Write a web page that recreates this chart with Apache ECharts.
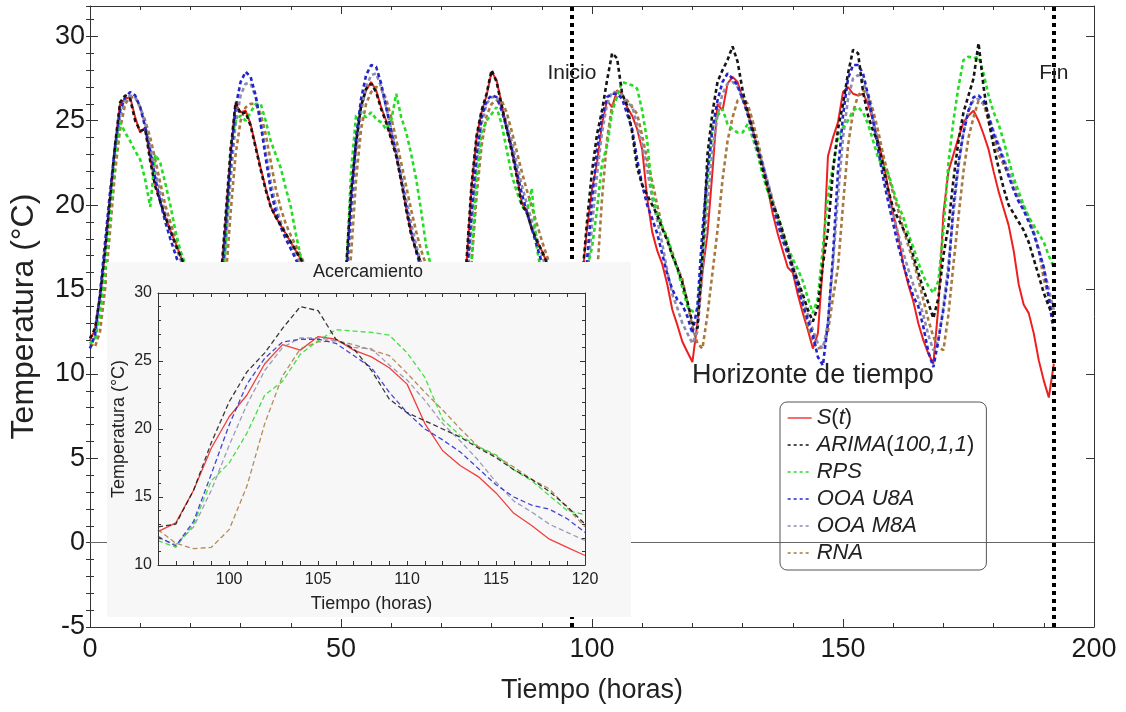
<!DOCTYPE html>
<html>
<head>
<meta charset="utf-8">
<script src="https://cdn.jsdelivr.net/npm/echarts@6/dist/echarts.min.js"></script>
<style>
  html, body { margin: 0; padding: 0; background: #ffffff; }
  #chart { width: 1126px; height: 712px; }
</style>
</head>
<body>
<div id="chart"></div>
<script>
// Hourly time stamps (hours 0..192)
const hours = Array.from({ length: 193 }, (_, i) => i);

// Measured temperature S(t), °C
const sMeasured = [
  12.0, 12.6, 14.5, 17.2, 20.3, 23.5, 26.0, 26.3, 26.4, 25.2, 24.3, 24.6, 22.8, 21.2, 20.2, 19.3, 18.5, 17.8, 17.0, 16.3, 15.6, 15.0, 14.4, 13.9,
  13.5, 13.3, 15.2, 19.0, 23.0, 26.0, 25.5, 25.6, 24.8, 23.5, 22.2, 21.0, 19.9, 19.3, 18.8, 18.3, 17.8, 17.3, 16.8, 16.2, 15.6, 15.0, 14.5, 14.0,
  13.6, 13.3, 13.8, 16.0, 20.5, 23.5, 25.8, 26.8, 27.3, 26.8, 25.8, 25.0, 24.0, 23.0, 21.5, 19.8, 18.3, 17.3, 16.5, 15.8, 15.1, 14.5, 14.0, 13.6,
  13.3, 13.0, 13.2, 16.5, 21.0, 24.0, 25.5, 26.5, 27.9, 27.4, 26.0, 24.6, 23.3, 21.8, 20.1, 19.7, 18.6, 17.9, 17.3, 16.6, 15.5, 14.5, 13.6, 12.9,
  12.45, 13.1, 15.5, 18.6, 20.9, 22.5, 24.8, 26.2, 25.8, 26.8, 26.6, 25.8, 25.3, 24.5, 23.3, 20.4, 18.4, 17.3, 16.5, 15.3, 13.8, 12.9, 11.9, 11.3,
  10.7, 13.0, 16.0, 18.3, 22.0, 26.0, 25.6, 27.2, 27.6, 27.3, 26.3, 25.6, 24.5, 23.3, 22.4, 21.0, 19.5, 18.3, 17.3, 16.3, 16.0, 14.7, 13.6, 12.6,
  11.5, 12.4, 16.5, 22.9, 24.0, 24.9, 26.7, 27.0, 26.6, 26.5, 26.6, 26.0, 25.0, 23.8, 22.6, 21.0, 19.5, 18.2, 16.5, 15.3, 14.3, 13.0, 12.0, 11.2,
  10.6, 14.0, 19.5, 22.0, 23.0, 24.0, 24.9, 25.3, 25.6, 25.0, 24.2, 23.3, 22.0, 20.8, 19.8, 18.8, 17.3, 15.3, 14.1, 13.6, 12.4, 10.8, 9.6, 8.6,
  10.6
];

// ARIMA(100,1,1): in-sample fit up to hour 96, forecast afterwards
const arima = [
  12.1, 12.7, 14.6, 17.3, 20.4, 23.6, 26.1, 26.5, 26.3, 25.0, 24.4, 24.5, 22.6, 21.1, 20.2, 19.3, 18.5, 17.7, 17.0, 16.3, 15.6, 15.0, 14.4, 13.9,
  13.5, 13.3, 15.4, 19.3, 23.2, 26.1, 25.4, 25.5, 24.7, 23.4, 22.1, 20.9, 19.9, 19.3, 18.8, 18.3, 17.8, 17.3, 16.8, 16.2, 15.6, 15.0, 14.5, 14.0,
  13.6, 13.3, 13.9, 16.2, 20.8, 23.7, 25.9, 26.9, 27.2, 26.7, 25.7, 24.9, 23.9, 22.9, 21.4, 19.7, 18.2, 17.3, 16.5, 15.8, 15.1, 14.5, 14.0, 13.6,
  13.3, 13.0, 13.3, 16.7, 21.2, 24.1, 25.6, 26.6, 28.0, 27.3, 25.9, 24.5, 23.2, 21.7, 20.0, 19.6, 18.6, 17.9, 17.3, 16.6, 15.5, 14.5, 13.6, 12.9,
  12.8, 13.0, 15.5, 19.0, 22.0, 24.2, 25.6, 27.4, 29.0, 28.7, 26.6, 25.9, 24.3, 22.2, 21.2, 20.6, 20.0, 19.4, 18.6, 17.9, 17.0, 16.3, 15.4, 14.3,
  13.0, 12.7, 17.0, 23.0, 25.5, 27.3, 28.0, 28.6, 29.4, 28.5, 26.8, 25.5, 24.5, 23.3, 22.1, 21.0, 20.0, 19.4, 18.4, 17.4, 16.3, 15.5, 14.7, 13.8,
  13.1, 14.0, 16.5, 18.5, 22.0, 24.5, 26.0, 27.8, 29.2, 29.0, 26.7, 25.3, 24.4, 23.7, 22.3, 20.9, 19.8, 19.2, 18.6, 18.0, 17.0, 16.0, 15.0, 14.2,
  13.3, 14.5, 17.0, 18.8, 21.5, 23.8, 25.5, 26.5, 27.5, 29.6, 27.0, 25.0, 23.5, 22.2, 21.0, 20.0, 19.5, 19.0, 18.5, 17.8, 16.8, 15.8, 14.8, 14.0,
  13.3
];

// RPS forecast
const rps = [
  11.8, 12.0, 13.5, 16.0, 19.5, 23.0, 24.9, 24.3, 23.8, 23.2, 22.7, 21.5, 19.9, 23.0, 22.5, 21.3, 20.0, 18.5, 17.3, 16.5, 15.8, 15.2, 14.6, 14.0,
  13.5, 13.3, 14.0, 17.5, 23.5, 25.0, 25.3, 25.0, 25.5, 26.0, 26.0, 25.0, 23.8, 23.0, 22.2, 21.0, 19.9, 18.3, 16.9, 16.0, 15.3, 14.7, 14.1, 13.6,
  13.3, 13.0, 13.2, 15.5, 22.0, 25.3, 25.5, 25.2, 25.5, 25.1, 24.9, 24.5, 25.0, 26.6, 25.2, 24.3, 23.0, 21.5, 19.6, 17.5, 16.3, 15.4, 14.7, 14.2,
  13.8, 13.5, 13.5, 14.5, 16.7, 21.5, 24.3, 25.0, 25.4, 25.8, 24.8, 23.3, 21.8, 20.8, 20.0, 19.5, 21.0, 17.5, 15.8, 15.0, 14.2, 13.4, 12.6, 12.0,
  11.8, 11.3, 13.0, 16.2, 17.5, 19.7, 22.5, 23.5, 25.5, 26.5, 27.3, 27.2, 27.1, 26.9, 25.6, 23.8, 20.7, 19.5, 18.7, 18.1, 17.0, 16.2, 15.1, 14.0,
  13.7, 13.8, 17.0, 21.5, 24.6, 25.3, 25.7, 24.8, 24.5, 24.3, 24.3, 24.8, 24.0, 23.0, 21.8, 20.8, 20.0, 19.3, 18.5, 17.5, 16.8, 16.2, 15.5, 14.5,
  13.6, 14.5, 17.5, 20.5, 22.3, 24.0, 24.6, 25.0, 25.6, 25.8, 25.5, 24.8, 23.8, 22.8, 22.3, 21.9, 20.9, 20.0, 19.3, 18.3, 17.5, 16.6, 15.8, 15.2,
  14.8, 15.5, 18.5, 22.5, 25.0, 27.0, 28.6, 28.8, 28.7, 28.8, 27.8, 26.5, 25.5, 24.8, 23.8, 22.7, 21.6, 20.8, 20.0, 19.3, 18.8, 18.3, 17.8, 17.0,
  16.3
];

// OOA U8A forecast
const ooaU8A = [
  11.5, 12.3, 14.8, 17.8, 20.8, 23.5, 25.6, 26.4, 26.7, 26.5, 25.8, 24.6, 23.2, 21.6, 20.2, 19.0, 18.0, 17.1, 16.2, 15.4, 14.7, 14.0, 13.5, 13.0,
  12.6, 12.5, 14.5, 18.5, 22.5, 25.8, 27.3, 27.9, 27.6, 26.5, 24.8, 22.8, 20.9, 19.6, 18.7, 18.0, 17.4, 16.8, 16.1, 15.4, 14.7, 14.0, 13.4, 13.0,
  12.7, 12.6, 13.2, 15.5, 20.0, 24.0, 26.3, 27.7, 28.3, 28.2, 27.2, 25.8, 24.4, 23.0, 21.5, 19.9, 18.4, 17.2, 16.2, 15.4, 14.7, 14.1, 13.6, 13.2,
  12.9, 12.7, 13.2, 15.5, 19.5, 23.0, 25.2, 26.2, 26.5, 26.4, 25.6, 24.6, 23.4, 22.0, 20.7, 19.6, 18.6, 17.6, 16.6, 15.6, 14.6, 13.7, 12.9, 12.4,
  12.1, 11.4, 13.2, 16.7, 20.3, 23.3, 25.2, 26.4, 26.6, 26.6, 26.3, 25.4, 24.5, 22.7, 21.2, 20.0, 19.2, 18.3, 17.1, 15.9, 15.0, 14.4, 14.1, 13.4,
  12.4, 14.0, 18.5, 22.0, 24.5, 26.2, 27.3, 27.8, 27.5, 27.1, 26.3, 25.4, 24.3, 23.3, 22.3, 21.2, 20.0, 18.9, 17.9, 17.1, 16.1, 15.1, 14.1, 13.2,
  12.3, 11.0, 10.5, 13.0, 17.0, 22.0, 25.3, 27.5, 28.3, 28.3, 27.8, 26.5, 25.0, 23.3, 21.6, 20.2, 18.9, 17.6, 16.5, 15.5, 14.6, 14.0, 12.8, 11.3,
  10.4, 12.0, 13.8, 16.0, 20.0, 22.5, 24.3, 25.6, 26.4, 26.5, 26.2, 25.3, 24.2, 23.5, 22.6, 21.7, 20.9, 20.2, 19.7, 19.0, 18.3, 17.3, 16.3, 14.5,
  12.4
];

// OOA M8A forecast
const ooaM8A = [
  11.8, 12.2, 14.0, 17.0, 20.0, 23.0, 25.3, 26.2, 26.5, 26.4, 25.8, 24.8, 23.5, 22.0, 20.7, 19.5, 18.5, 17.6, 16.8, 16.0, 15.2, 14.5, 13.9, 13.4,
  13.0, 12.8, 14.0, 17.5, 21.5, 24.8, 26.5, 27.2, 27.2, 26.4, 25.0, 23.2, 21.4, 20.0, 19.0, 18.3, 17.7, 17.1, 16.5, 15.8, 15.1, 14.4, 13.8, 13.3,
  13.0, 12.8, 13.2, 15.0, 19.0, 23.0, 25.5, 27.0, 27.7, 27.8, 27.0, 25.8, 24.5, 23.2, 21.8, 20.3, 18.9, 17.6, 16.5, 15.6, 14.9, 14.3, 13.8, 13.4,
  13.1, 12.9, 13.2, 15.0, 18.8, 22.5, 24.8, 26.0, 26.4, 26.4, 25.8, 24.9, 23.8, 22.5, 21.2, 20.1, 19.1, 18.1, 17.1, 16.1, 15.1, 14.2, 13.3, 12.6,
  12.0, 11.5, 12.8, 15.5, 18.8, 21.8, 24.3, 26.0, 26.7, 26.7, 26.5, 26.0, 25.9, 24.7, 23.6, 22.1, 20.4, 19.1, 17.7, 16.1, 14.7, 13.9, 13.0, 12.4,
  11.8, 12.5, 16.0, 20.0, 23.2, 25.3, 26.6, 27.2, 27.3, 27.0, 26.3, 25.4, 24.4, 23.4, 22.4, 21.4, 20.3, 19.3, 18.3, 17.4, 16.5, 15.5, 14.5, 13.5,
  12.6, 11.8, 11.5, 13.0, 16.5, 20.5, 24.0, 26.3, 27.5, 27.7, 27.4, 26.4, 25.1, 23.6, 22.1, 20.7, 19.5, 18.3, 17.2, 16.2, 15.3, 14.5, 13.5, 12.3,
  11.4, 12.0, 14.0, 16.5, 19.5, 22.3, 24.3, 25.6, 26.2, 26.3, 26.0, 25.3, 24.4, 23.6, 22.8, 22.0, 21.2, 20.5, 19.9, 19.2, 18.4, 17.4, 16.3, 15.0,
  13.8
];

// RNA forecast
const rna = [
  11.8, 11.6, 12.5, 15.0, 18.5, 22.0, 24.5, 26.0, 26.4, 26.4, 25.8, 25.0, 24.0, 22.7, 21.3, 20.0, 19.0, 18.0, 17.0, 16.2, 15.4, 14.7, 14.1, 13.6,
  13.2, 12.9, 13.2, 15.5, 19.5, 23.0, 25.0, 25.8, 26.0, 26.0, 25.4, 24.2, 22.6, 21.0, 19.8, 18.9, 18.2, 17.6, 17.0, 16.3, 15.6, 14.9, 14.3, 13.8,
  13.4, 13.1, 13.1, 14.0, 17.0, 21.5, 24.5, 26.0, 26.7, 27.0, 26.9, 26.3, 25.2, 23.9, 22.5, 21.1, 19.7, 18.4, 17.3, 16.4, 15.6, 14.9, 14.3, 13.8,
  13.4, 13.2, 13.2, 14.0, 16.5, 20.5, 23.5, 25.3, 26.0, 26.2, 26.2, 25.5, 24.4, 23.2, 22.0, 20.9, 19.9, 18.9, 17.9, 17.0, 16.2, 15.2, 14.2, 13.3,
  12.6, 11.6, 11.2, 11.3, 12.6, 15.8, 20.4, 23.9, 25.9, 26.4, 26.5, 26.2, 25.8, 25.4, 24.1, 22.7, 21.4, 20.0, 18.7, 18.0, 17.2, 16.3, 15.6, 14.2,
  12.8, 11.8, 11.5, 13.5, 16.0, 18.5, 21.5, 23.8, 25.2, 26.2, 26.4, 26.0, 25.0, 23.8, 22.5, 21.3, 20.2, 19.2, 18.2, 17.2, 16.3, 15.2, 14.0, 12.8,
  11.9, 11.5, 11.6, 12.5, 14.5, 16.3, 20.0, 23.5, 25.5, 26.5, 26.8, 26.6, 25.6, 24.4, 23.0, 21.8, 20.7, 19.7, 18.6, 17.6, 16.7, 15.6, 14.4, 13.2,
  12.2, 11.6, 11.4, 13.5, 16.5, 19.3, 22.0, 24.0, 25.2, 26.2, 26.0, 25.0, 24.0, 23.0, 22.4, 21.8, 21.0, 20.3, 19.9, 19.3, 18.4, 17.3, 15.6, 14.6,
  13.5
];

// Forecast horizon markers and the zoomed window (hours)
const horizonStart = 96;
const horizonEnd = 192;
const zoomFrom = 96;
const zoomTo = 120;

const FONT = "'Liberation Sans', Arial, Helvetica, sans-serif";

// Series definitions: drawing order (first is at the bottom)
const defs = [
  { name: 'S(t)',           values: sMeasured, color: '#ee1f1f', solid: true },
  { name: 'RNA',            values: rna,       color: '#a8783e' },
  { name: 'OOA M8A',        values: ooaM8A,    color: '#8c8cae' },
  { name: 'RPS',            values: rps,       color: '#25dc25' },
  { name: 'OOA U8A',        values: ooaU8A,    color: '#2424cc' },
  { name: 'ARIMA(100,1,1)', values: arima,     color: '#151515' }
];
const legendOrder = ['S(t)', 'ARIMA(100,1,1)', 'RPS', 'OOA U8A', 'OOA M8A', 'RNA'];

function toPairs(values, from, to) {
  const out = [];
  for (let i = 0; i < hours.length; i++) {
    if (hours[i] >= from && hours[i] <= to) out.push([hours[i], values[i]]);
  }
  return out;
}

const series = [];
defs.forEach(d => {
  series.push({
    name: d.name,
    type: 'line',
    xAxisIndex: 0,
    yAxisIndex: 0,
    data: toPairs(d.values, 0, horizonEnd),
    showSymbol: false,
    symbol: 'none',
    smooth: false,
    z: 2,
    lineStyle: { color: d.color, width: d.solid ? 2 : 2.6, type: d.solid ? 'solid' : [4, 3] },
    itemStyle: { color: d.color },
    emphasis: { disabled: true }
  });
  series.push({
    name: d.name,
    type: 'line',
    xAxisIndex: 2,
    yAxisIndex: 2,
    data: toPairs(d.values, zoomFrom, zoomTo),
    showSymbol: false,
    symbol: 'none',
    z: 10,
    lineStyle: { color: d.color, width: 1.3, type: d.solid ? 'solid' : [5, 3], opacity: 0.85 },
    itemStyle: { color: d.color },
    emphasis: { disabled: true }
  });
});

// Reference lines and annotations on the main plot (kept beneath the inset panel)
series.push({
  type: 'line',
  name: 'marks',
  xAxisIndex: 0,
  yAxisIndex: 0,
  data: [],
  z: 3,
  silent: true,
  markLine: {
    silent: true,
    z: 3,
    symbol: 'none',
    label: { show: false },
    data: [
      { xAxis: horizonStart, lineStyle: { color: '#000', width: 4, type: [4, 4] } },
      { xAxis: horizonEnd, lineStyle: { color: '#000', width: 4, type: [4, 4] } },
      { yAxis: 0, lineStyle: { color: '#666', width: 1, type: 'solid' } }
    ]
  },
  markPoint: {
    silent: true,
    z: 4,
    symbol: 'circle',
    symbolSize: 1,
    itemStyle: { color: 'rgba(0,0,0,0)' },
    label: { show: true, position: 'inside', formatter: '{b}', color: '#222', fontFamily: FONT },
    data: [
      { name: 'Inicio', coord: [horizonStart, 27.8], label: { fontSize: 21 } },
      { name: 'Fin', coord: [horizonEnd, 27.8], label: { fontSize: 21 } },
      { name: 'Horizonte de tiempo', coord: [144, 9.9], label: { fontSize: 27 } }
    ]
  }
});

function valueAxis(opts) {
  return Object.assign({
    type: 'value',
    splitLine: { show: false },
    axisLine: { show: true, onZero: false, lineStyle: { color: '#333', width: 1 } },
    axisTick: { show: true, inside: true, length: 8, lineStyle: { color: '#333' } },
    axisLabel: { show: false },
    minorTick: { show: false }
  }, opts);
}

const mainX = { min: 0, max: 200, interval: 50, gridIndex: 0 };
const mainY = { min: -5, max: 31.8, interval: 5, gridIndex: 0 };
const insetX = { min: zoomFrom, max: zoomTo, interval: 1, gridIndex: 1 };
const insetY = { min: 10, max: 30, interval: 5, gridIndex: 1 };

const xAxis = [
  // 0: main bottom
  valueAxis(Object.assign({}, mainX, {
    position: 'bottom',
    minorTick: { show: true, splitNumber: 5, length: 4, lineStyle: { color: '#333' } },
    axisLabel: { show: true, fontSize: 27, color: '#1a1a1a', margin: 9, fontFamily: FONT },
    name: 'Tiempo (horas)', nameLocation: 'middle', nameGap: 50,
    nameTextStyle: { fontSize: 27, color: '#222', fontFamily: FONT }
  })),
  // 1: main top (mirrored ticks)
  valueAxis(Object.assign({}, mainX, {
    position: 'top',
    minorTick: { show: true, splitNumber: 5, length: 4, lineStyle: { color: '#333' } }
  })),
  // 2: inset bottom
  valueAxis(Object.assign({}, insetX, {
    position: 'bottom', z: 12,
    axisTick: { show: true, inside: true, length: 4, lineStyle: { color: '#333' } },
    axisLabel: { show: true, fontSize: 16, color: '#222', margin: 7, fontFamily: FONT,
      formatter: v => (v % 5 === 0 ? String(v) : '') },
    name: 'Tiempo (horas)', nameLocation: 'middle', nameGap: 30,
    nameTextStyle: { fontSize: 18, color: '#222', fontFamily: FONT }
  })),
  // 3: inset top
  valueAxis(Object.assign({}, insetX, {
    position: 'top', z: 12,
    axisTick: { show: true, inside: true, length: 4, lineStyle: { color: '#333' } }
  }))
];

const yAxis = [
  // 0: main left (major ticks + labels)
  valueAxis(Object.assign({}, mainY, {
    position: 'left',
    axisLabel: { show: true, fontSize: 27, color: '#1a1a1a', margin: 5, fontFamily: FONT,
      formatter: v => (v % 5 === 0 ? String(v) : '') },
    name: 'Temperatura (°C)', nameLocation: 'middle', nameGap: 50,
    nameTextStyle: { fontSize: 32, color: '#222', fontFamily: FONT }
  })),
  // 1: main right (major ticks)
  valueAxis(Object.assign({}, mainY, { position: 'right' })),
  // 2: inset left
  valueAxis(Object.assign({}, insetY, {
    position: 'left', z: 12,
    axisTick: { show: true, inside: true, length: 5, lineStyle: { color: '#333' } },
    minorTick: { show: true, splitNumber: 5, length: 3, lineStyle: { color: '#333' } },
    axisLabel: { show: true, fontSize: 16, color: '#222', margin: 6, fontFamily: FONT },
    name: 'Temperatura (°C)', nameLocation: 'middle', nameGap: 30,
    nameTextStyle: { fontSize: 18, color: '#222', fontFamily: FONT }
  })),
  // 3: inset right
  valueAxis(Object.assign({}, insetY, {
    position: 'right', z: 12,
    axisTick: { show: true, inside: true, length: 5, lineStyle: { color: '#333' } },
    minorTick: { show: true, splitNumber: 5, length: 3, lineStyle: { color: '#333' } }
  })),
  // 4: main left minor ticks (every degree)
  valueAxis({ min: -5, max: 31.8, interval: 1, gridIndex: 0, position: 'left',
    axisLine: { show: false }, axisTick: { show: true, inside: true, length: 4, lineStyle: { color: '#333' } } }),
  // 5: main right minor ticks
  valueAxis({ min: -5, max: 31.8, interval: 1, gridIndex: 0, position: 'right',
    axisLine: { show: false }, axisTick: { show: true, inside: true, length: 4, lineStyle: { color: '#333' } } })
];

const legendText = {
  'S(t)': '{i|S}{n|(}{i|t}{n|)}',
  'ARIMA(100,1,1)': '{i|ARIMA}{n|(}{i|100,1,1}{n|)}'
};

const option = {
  animation: false,
  backgroundColor: '#ffffff',
  grid: [
    { left: 88, right: 32, top: 6, bottom: 85 },
    { left: 158, right: 541, top: 293, bottom: 147 }
  ],
  xAxis: xAxis,
  yAxis: yAxis,
  legend: {
    orient: 'vertical',
    left: 780,
    top: 402,
    padding: [5, 12, 6, 7],
    itemGap: 5,
    itemWidth: 24,
    itemHeight: 12,
    borderColor: '#555',
    borderWidth: 1,
    borderRadius: 7,
    selectedMode: false,
    data: legendOrder.map(n => {
      const d = defs.find(s => s.name === n);
      return {
        name: n,
        itemStyle: { opacity: 0 },
        lineStyle: { width: 1.3, color: d.color, type: d.solid ? 'solid' : [3, 3] }
      };
    }),
    formatter: n => legendText[n] || ('{i|' + n + '}'),
    textStyle: {
      color: '#222',
      fontFamily: FONT,
      fontSize: 22,
      rich: {
        i: { fontStyle: 'italic', fontSize: 22, fontFamily: FONT, color: '#222' },
        n: { fontSize: 22, fontFamily: FONT, color: '#222' }
      }
    }
  },
  graphic: [
    {
      type: 'rect',
      z: 5,
      silent: true,
      shape: { x: 107, y: 262, width: 524, height: 355 },
      style: { fill: '#f7f7f7' }
    },
    {
      type: 'text',
      z: 12,
      silent: true,
      x: 368,
      y: 272,
      style: { text: 'Acercamiento', fill: '#222', font: '18px ' + FONT, align: 'center', verticalAlign: 'middle' }
    }
  ],
  series: series
};

const chart = echarts.init(document.getElementById('chart'), null, { renderer: 'canvas' });
chart.setOption(option);
</script>
</body>
</html>
